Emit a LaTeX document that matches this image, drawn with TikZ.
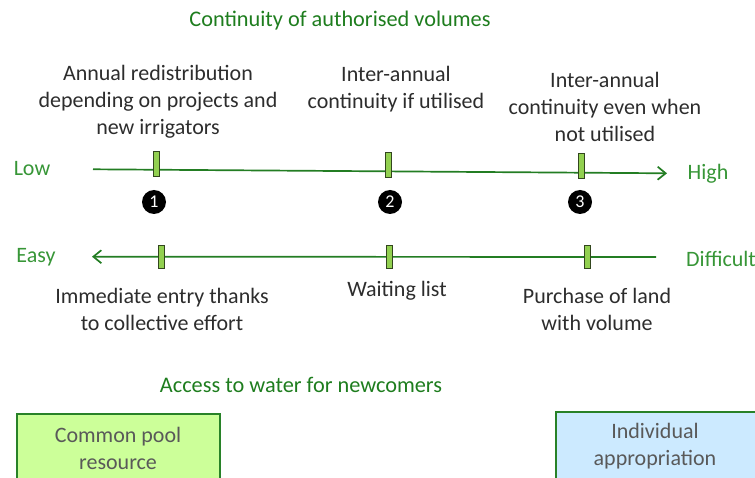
\documentclass[tikz,border=0pt]{standalone}
\usepackage{fontspec}
\setmainfont{Carlito}
\usetikzlibrary{arrows.meta}
\definecolor{titlegreen}{RGB}{30,125,30}
\definecolor{labgreen}{RGB}{55,150,55}
\definecolor{linegreen}{RGB}{35,125,35}
\definecolor{tickfill}{RGB}{146,208,80}
\definecolor{tickdraw}{RGB}{50,70,30}
\definecolor{txt}{RGB}{45,45,45}
\definecolor{boxtxt}{RGB}{89,89,89}
\definecolor{poolfill}{RGB}{204,255,153}
\definecolor{indfill}{RGB}{204,234,255}
\definecolor{boxdraw}{RGB}{40,130,40}
\tikzset{
  txtnode/.style={inner sep=0pt, align=center, text=txt, font=\fontsize{22}{27}\selectfont},
  greentitle/.style={inner sep=0pt, text=titlegreen, font=\fontsize{22.3}{27}\selectfont},
  greenlab/.style={inner sep=0pt, text=labgreen, font=\fontsize{22}{27}\selectfont},
  tick/.style={draw=tickdraw, fill=tickfill, line width=1pt, minimum width=6pt, minimum height=25pt, inner sep=0pt},
  numcirc/.style={circle, fill=black, text=white, minimum size=24pt, inner sep=0pt, font=\fontsize{18}{18}\selectfont},
  scaleline/.style={draw=linegreen, line width=1.7pt},
  sbox/.style={draw=boxdraw, line width=1.2pt},
  boxtext/.style={inner sep=0pt, align=center, text=boxtxt, font=\fontsize{22}{27}\selectfont}
}
\begin{document}
\begin{tikzpicture}[x=1pt,y=-1pt]
\useasboundingbox (0,0) rectangle (755,478);
% titles
\node[greentitle] (t1) at (340,21) {Continuity of authorised volumes};
\node[greentitle] (t2) at (301,385) {Access to water for newcomers};
% top descriptions
\node[txtnode] (d1) at (158,102) {Annual redistribution\\depending on projects and\\new irrigators};
\node[txtnode] (d2) at (396,89) {Inter-annual\\continuity if utilised};
\node[txtnode] (d3) at (605,107) {Inter-annual\\continuity even when\\not utilised};
% top scale
\coordinate (tl) at (93,169.3);
\coordinate (tr) at (667,173.3);
\draw[scaleline, -{Straight Barb[length=8pt,width=13pt,line width=1.7pt]}] (tl) -- (tr);
\node[greenlab] (low) at (32,169) {Low};
\node[greenlab] (high) at (708,174) {High};
\node[tick] (k1) at (156,164) {};
\node[tick] (k2) at (388,165.5) {};
\node[tick] (k3) at (581,166) {};
\node[numcirc] (n1) at (154,202) {1};
\node[numcirc] (n2) at (390,202) {2};
\node[numcirc] (n3) at (580,202) {3};
% bottom scale
\coordinate (bl) at (92,256.7);
\coordinate (br) at (656,257);
\draw[scaleline, -{Straight Barb[length=8pt,width=13pt,line width=1.7pt]}] (br) -- (bl);
\node[greenlab] (easy) at (36,257) {Easy};
\node[greenlab, anchor=west] (diff) at (686,259) {Difficult};
\node[tick, minimum height=23pt] (m1) at (161,257.5) {};
\node[tick, minimum height=23pt] (m2) at (389,257.5) {};
\node[tick, minimum height=23pt] (m3) at (587,257.5) {};
% bottom descriptions
\node[txtnode] (e1) at (162,309) {Immediate entry thanks\\to collective effort};
\node[txtnode] (e2) at (397,291) {Waiting list};
\node[txtnode] (e3) at (597,309) {Purchase of land\\with volume};
% boxes
\draw[sbox, fill=poolfill] (17,414) rectangle (220,490);
\draw[sbox, fill=indfill] (556,412) rectangle (770,490);
\node[boxtext] (b1) at (118,448) {Common pool\\resource};
\node[boxtext] (b2) at (655,446) {Individual\\appropriation};
\end{tikzpicture}
\end{document}
